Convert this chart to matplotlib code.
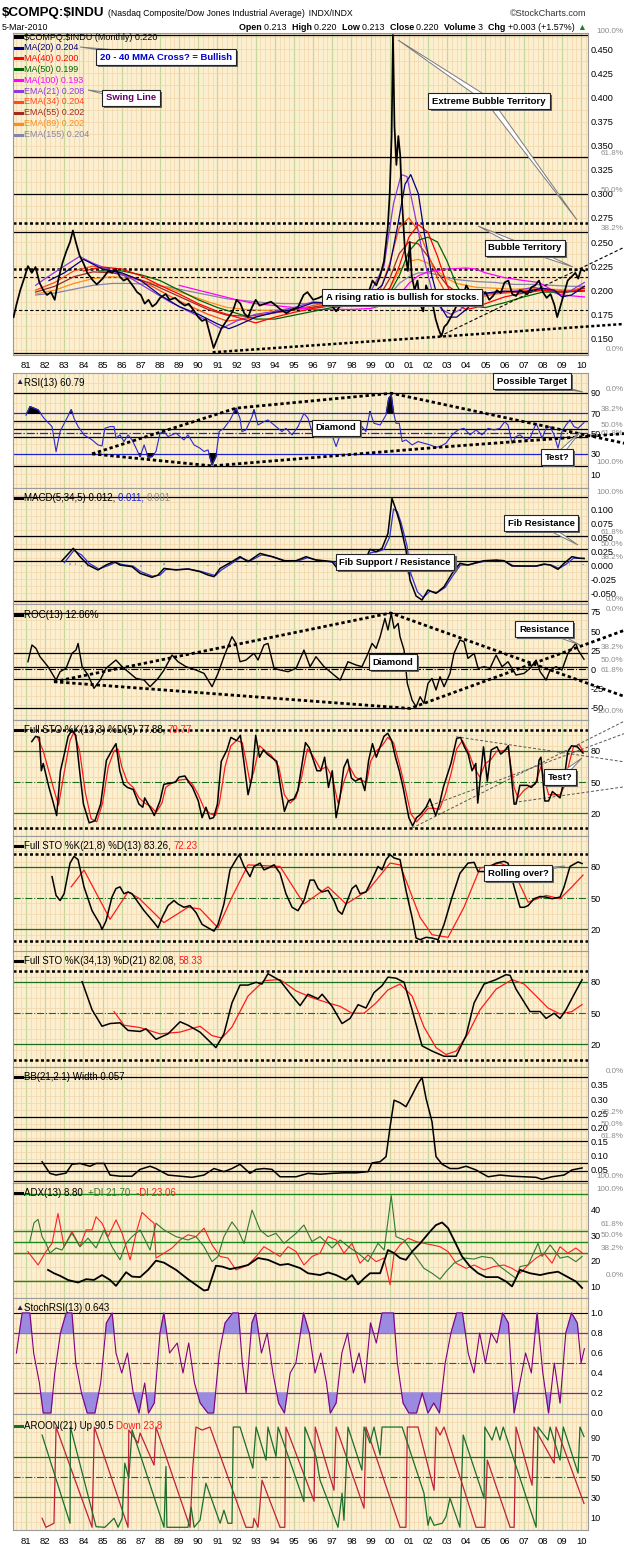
import numpy as np
import matplotlib
matplotlib.use("Agg")
import matplotlib.pyplot as plt
import matplotlib.transforms as mtransforms
import matplotlib.patheffects as pe
from matplotlib.lines import Line2D
from matplotlib.patches import Polygon
from matplotlib import font_manager as fm


def has_font(name):
    try:
        fm.findfont(name, fallback_to_default=False)
        return True
    except Exception:
        return False

SANS = 'Liberation Sans' if has_font('Liberation Sans') else 'DejaVu Sans'
NARROW = 'Liberation Sans Narrow' if has_font('Liberation Sans Narrow') else SANS
plt.rcParams['font.family'] = [SANS, 'DejaVu Sans']

# ---------------- data (year, value) ----------------
years = ['81', '82', '83', '84', '85', '86', '87', '88', '89', '90', '91', '92', '93', '94', '95',
         '96', '97', '98', '99', '00', '01', '02', '03', '04', '05', '06', '07', '08', '09', '10']

price = [(1980.35,0.172),(1980.5,0.185),(1980.7,0.200),(1980.9,0.212),(1981.1,0.225),(1981.3,0.218),
 (1981.5,0.224),(1981.7,0.208),(1981.9,0.200),(1982.1,0.195),(1982.3,0.198),(1982.5,0.190),(1982.7,0.212),
 (1982.9,0.228),(1983.1,0.240),(1983.3,0.250),(1983.45,0.262),(1983.6,0.250),(1983.8,0.236),(1984.0,0.228),
 (1984.2,0.218),(1984.5,0.210),(1984.7,0.206),(1985.0,0.212),(1985.3,0.220),(1985.5,0.218),(1985.7,0.222),
 (1985.9,0.214),(1986.1,0.210),(1986.3,0.212),(1986.6,0.204),(1986.8,0.198),(1987.0,0.195),(1987.2,0.186),
 (1987.4,0.190),(1987.6,0.183),(1987.8,0.186),(1988.0,0.192),(1988.3,0.196),(1988.5,0.190),(1988.8,0.192),
 (1989.0,0.188),(1989.3,0.184),(1989.5,0.186),(1989.8,0.178),(1990.0,0.172),(1990.2,0.168),(1990.4,0.170),
 (1990.6,0.155),(1990.8,0.140),(1991.0,0.150),(1991.2,0.160),(1991.4,0.166),(1991.6,0.172),(1991.8,0.178),
 (1992.0,0.190),(1992.2,0.186),(1992.4,0.176),(1992.6,0.172),(1992.8,0.182),(1993.0,0.190),(1993.2,0.184),
 (1993.5,0.186),(1993.8,0.188),(1994.0,0.185),(1994.3,0.180),(1994.6,0.176),(1994.9,0.180),(1995.2,0.182),
 (1995.5,0.195),(1995.7,0.198),(1996.0,0.190),(1996.3,0.192),(1996.6,0.195),(1996.9,0.186),(1997.2,0.178),
 (1997.5,0.186),(1997.8,0.192),(1998.0,0.188),(1998.3,0.190),(1998.6,0.184),(1998.9,0.198),(1999.1,0.210),
 (1999.3,0.205),(1999.5,0.215),(1999.7,0.230),(1999.9,0.265),(2000.0,0.300),(2000.1,0.360),(2000.17,0.465),
 (2000.25,0.370),(2000.35,0.330),(2000.45,0.360),(2000.55,0.340),(2000.65,0.290),(2000.8,0.240),
 (2000.95,0.220),(2001.05,0.250),(2001.15,0.215),(2001.3,0.200),(2001.45,0.210),(2001.6,0.185),
 (2001.75,0.178),(2001.9,0.205),(2002.0,0.200),(2002.2,0.190),(2002.4,0.170),(2002.55,0.160),(2002.7,0.152),
 (2002.85,0.162),(2003.0,0.165),(2003.2,0.172),(2003.4,0.180),(2003.6,0.188),(2003.8,0.192),(2004.0,0.205),
 (2004.2,0.198),(2004.4,0.194),(2004.6,0.186),(2004.8,0.196),(2005.0,0.198),(2005.2,0.190),(2005.4,0.194),
 (2005.6,0.200),(2005.8,0.197),(2006.0,0.208),(2006.2,0.210),(2006.4,0.196),(2006.6,0.194),(2006.8,0.200),
 (2007.0,0.198),(2007.2,0.196),(2007.4,0.203),(2007.6,0.205),(2007.8,0.210),(2008.0,0.198),(2008.2,0.192),
 (2008.4,0.196),(2008.6,0.185),(2008.75,0.172),(2008.9,0.182),(2009.1,0.196),(2009.3,0.210),(2009.5,0.214),
 (2009.7,0.218),(2009.85,0.212),(2010.0,0.222),(2010.17,0.220)]

ma20 = [(1982.2,.210),(1983,.218),(1984,.232),(1985,.222),(1986,.218),(1987,.210),(1988,.195),(1989,.183),
 (1990,.175),(1991,.165),(1991.6,.160),(1992,.163),(1993,.172),(1994,.177),(1995,.180),(1996,.187),(1997,.187),
 (1998,.188),(1999,.195),(1999.6,.205),(2000,.225),(2000.4,.265),(2000.8,.310),(2001.1,.320),(2001.5,.300),
 (2001.8,.260),(2002.2,.215),(2002.6,.185),(2003,.172),(2003.5,.172),(2004,.180),(2004.5,.190),(2005,.197),
 (2006,.199),(2007,.198),(2008,.202),(2008.6,.200),(2009,.193),(2009.5,.195),(2010.17,.204)]
ma40 = [(1984,.220),(1985,.224),(1986,.222),(1987,.215),(1988,.205),(1989,.196),(1990,.186),(1991,.178),
 (1992,.172),(1993,.166),(1994,.172),(1995,.177),(1996,.181),(1997,.184),(1998,.186),(1999,.190),(2000,.202),
 (2000.5,.225),(2001,.255),(2001.5,.268),(2002,.260),(2002.5,.235),(2003,.205),(2003.5,.185),(2004,.180),
 (2004.5,.182),(2005,.186),(2006,.193),(2007,.197),(2008,.200),(2009,.198),(2010.17,.200)]
ma50 = [(1984.8,.220),(1986,.220),(1987,.216),(1988,.210),(1989,.200),(1990,.190),(1991,.182),(1992,.176),
 (1993,.170),(1994,.170),(1995,.174),(1996,.178),(1997,.182),(1998,.184),(1999,.187),(2000,.197),(2000.5,.215),
 (2001,.240),(2001.5,.252),(2002,.255),(2002.5,.250),(2003,.230),(2003.5,.205),(2004,.188),(2004.5,.183),
 (2005,.182),(2006,.187),(2007,.193),(2008,.198),(2009,.198),(2010.17,.199)]
ma100 = [(1989,.205),(1990,.200),(1991,.195),(1992,.190),(1993,.186),(1994,.184),(1995,.182),(1996,.180),
 (1997,.180),(1998,.180),(1999,.181),(2000,.186),(2000.5,.195),(2001,.207),(2001.5,.215),(2002,.219),(2003,.222),
 (2004,.223),(2004.5,.222),(2005,.218),(2006,.213),(2007,.210),(2007.8,.208),(2008.5,.200),(2009,.195),
 (2010.17,.193)]
ema21 = [(1981.5,.205),(1982,.212),(1983,.225),(1983.8,.235),(1984.5,.228),(1985.5,.220),(1986.5,.212),
 (1987.5,.200),(1988.5,.188),(1989.5,.178),(1990.5,.168),(1991.2,.160),(1992,.168),(1993,.175),(1994,.178),
 (1995,.182),(1996,.188),(1997,.186),(1998,.189),(1999,.198),(1999.7,.225),(2000.2,.290),(2000.6,.320),
 (2000.9,.318),(2001.3,.280),(2001.7,.240),(2002.2,.200),(2002.7,.180),(2003.2,.175),(2003.7,.180),
 (2004.5,.193),(2005.5,.198),(2006.5,.199),(2007.5,.203),(2008.3,.200),(2008.9,.195),(2009.5,.200),(2010.17,.208)]
ema34 = [(1981.5,.200),(1982.5,.208),(1983.5,.220),(1984.5,.225),(1985.5,.220),(1986.5,.214),(1987.5,.205),
 (1988.5,.194),(1989.5,.184),(1990.5,.175),(1991.5,.168),(1992.5,.170),(1993.5,.175),(1994.5,.178),
 (1995.5,.182),(1996.5,.186),(1997.5,.186),(1998.5,.189),(1999.5,.200),(2000,.228),(2000.5,.265),(2001,.275),
 (2001.5,.262),(2002,.238),(2002.5,.212),(2003,.195),(2003.5,.188),(2004.5,.192),(2005.5,.196),(2006.5,.198),
 (2007.5,.201),(2008.5,.199),(2009.5,.199),(2010.17,.204)]
ema55 = [(1981.5,.198),(1982.5,.204),(1983.5,.214),(1984.5,.219),(1985.5,.218),(1986.5,.214),(1987.5,.207),
 (1988.5,.198),(1989.5,.189),(1990.5,.180),(1991.5,.174),(1992.5,.173),(1993.5,.175),(1994.5,.178),
 (1995.5,.181),(1996.5,.184),(1997.5,.185),(1998.5,.187),(1999.5,.195),(2000,.212),(2000.5,.238),(2001,.250),
 (2001.5,.248),(2002,.235),(2002.5,.218),(2003,.205),(2003.5,.198),(2004.5,.196),(2005.5,.197),(2006.5,.198),
 (2007.5,.200),(2008.5,.199),(2009.5,.199),(2010.17,.202)]
ema89 = [(1981.5,.196),(1982.5,.200),(1983.5,.207),(1984.5,.212),(1985.5,.214),(1986.5,.212),(1987.5,.208),
 (1988.5,.202),(1989.5,.195),(1990.5,.188),(1991.5,.182),(1992.5,.180),(1993.5,.179),(1994.5,.180),
 (1995.5,.181),(1996.5,.183),(1997.5,.184),(1998.5,.186),(1999.5,.191),(2000,.202),(2000.5,.220),(2001,.230),
 (2001.5,.232),(2002,.228),(2002.5,.220),(2003,.212),(2003.5,.207),(2004.5,.203),(2005.5,.202),(2006.5,.201),
 (2007.5,.202),(2008.5,.201),(2009.5,.200),(2010.17,.202)]
ema155 = [(1981.5,.195),(1982.5,.197),(1983.5,.201),(1984.5,.205),(1985.5,.207),(1986.5,.207),(1987.5,.206),
 (1988.5,.203),(1989.5,.199),(1990.5,.195),(1991.5,.191),(1992.5,.189),(1993.5,.187),(1994.5,.186),
 (1995.5,.186),(1996.5,.186),(1997.5,.186),(1998.5,.187),(1999.5,.189),(2000,.195),(2000.5,.207),(2001,.214),
 (2001.5,.218),(2002,.218),(2002.5,.216),(2003,.213),(2003.5,.211),(2004.5,.209),(2005.5,.208),(2006.5,.206),
 (2007.5,.206),(2008.5,.205),(2009.5,.204),(2010.17,.204)]

rsi = [(1981.0,68),(1981.21,76.5),(1981.63,73.3),(1981.94,65),(1982.36,56.8),(1982.57,32),(1982.78,52),
 (1983.09,63.4),(1983.36,73.3),(1983.51,65),(1983.72,56.8),(1984.03,48.6),(1984.45,43.7),(1984.76,38.7),
 (1984.97,37.7),(1985.12,55.1),(1985.39,56.8),(1985.6,56.8),(1985.7,45.4),(1985.91,48.6),(1986.12,42),
 (1986.33,48.6),(1986.54,43.7),(1986.75,35.5),(1986.96,27.2),(1987.17,38.7),(1987.38,26.5),(1987.58,27.2),
 (1987.79,32.2),(1988.0,50.3),(1988.21,51.9),(1988.42,47),(1988.84,50.3),(1989.25,43.7),(1989.46,48.6),
 (1989.78,38.7),(1990.09,35.5),(1990.3,32.2),(1990.51,33.8),(1990.72,19),(1990.92,27.2),(1991.09,51.9),
 (1991.34,55.1),(1991.66,63.4),(1991.97,74.9),(1992.18,65),(1992.28,51.9),(1992.49,53.5),(1992.81,66.7),
 (1992.91,73.3),(1993.12,58.4),(1993.43,61.7),(1993.64,63.4),(1994.06,56.8),(1994.37,51.9),(1994.58,55.1),
 (1994.9,48.6),(1995.21,56.8),(1995.52,69.9),(1995.73,65),(1995.94,51.9),(1996.26,48.6),(1996.57,51.9),
 (1996.78,55.1),(1996.99,48.6),(1997.2,37.1),(1997.41,48.6),(1997.82,51.9),(1998.24,48.6),(1998.55,56.8),
 (1998.76,51.9),(1998.97,71.6),(1999.18,60.1),(1999.5,58.4),(1999.81,68.3),(1999.95,84.7),(2000.08,88),
 (2000.19,71.6),(2000.33,60.1),(2000.5,60.1),(2000.65,42),(2000.85,43.7),(2001.17,38.7),(2001.48,42),
 (2001.79,40.4),(2002.11,38.7),(2002.42,36.5),(2002.63,37.1),(2002.94,40.4),(2003.26,48.6),(2003.57,53.5),
 (2003.88,55.1),(2004.2,48.6),(2004.51,53.5),(2004.82,48.6),(2005.14,55.1),(2005.45,53.5),(2005.76,55.1),
 (2006.01,61.7),(2006.18,58.4),(2006.39,40.4),(2006.6,47),(2006.81,48.6),(2007.12,43.7),(2007.33,45.4),
 (2007.65,60.1),(2007.96,45.4),(2008.17,55.1),(2008.38,56.8),(2008.59,48.6),(2008.79,35.5),(2009.0,51.9),
 (2009.21,58.4),(2009.42,63.4),(2009.63,56.8),(2009.84,55.1),(2010.15,60.8)]

macd = [(1982.88,0.0077),(1983.47,0.0298),(1983.82,0.0149),(1984.24,0.0),(1984.76,-0.0089),(1985.18,0.0),
 (1985.6,0.006),(1985.91,0.0),(1986.54,-0.003),(1986.96,-0.0149),(1987.58,-0.022),(1987.9,-0.0179),
 (1988.21,-0.006),(1988.84,-0.0089),(1989.46,-0.0071),(1990.09,-0.0119),(1990.51,-0.0179),(1990.82,-0.0208),
 (1991.14,-0.006),(1991.76,0.006),(1992.18,0.0149),(1992.6,0.006),(1993.23,0.0208),(1993.85,0.0149),
 (1994.48,0.0077),(1995.11,0.0077),(1995.63,0.0149),(1996.15,0.0089),(1996.57,0.0077),(1996.99,0.006),
 (1997.3,-0.0077),(1997.82,-0.003),(1998.24,0.0),(1998.66,0.003),(1998.97,0.028),(1999.29,0.0238),
 (1999.6,0.0298),(1999.91,0.0565),(2000.12,0.119),(2000.33,0.0982),(2000.54,0.0744),(2000.85,0.0268),
 (2001.06,-0.0268),(2001.38,-0.0554),(2001.69,-0.0625),(2002.0,-0.0446),(2002.42,-0.0506),(2002.84,-0.0387),
 (2003.26,-0.0149),(2003.67,0.003),(2004.09,0.0),(2004.51,0.0042),(2004.93,0.0077),(2005.56,0.0089),
 (2005.97,0.0077),(2006.39,-0.0018),(2007.02,-0.0018),(2007.65,-0.0018),(2008.06,0.0018),(2008.38,0.0),
 (2008.79,-0.0077),(2009.11,0.003),(2009.52,0.0149),(2009.94,0.0119),(2010.15,0.012)]
macd_signal = [(1983.0,0.004),(1983.5,0.026),(1983.9,0.018),(1984.3,0.003),(1984.8,-0.007),(1985.3,-0.001),
 (1985.7,0.005),(1986.0,0.001),(1986.6,-0.002),(1987.0,-0.012),(1987.6,-0.020),(1988.0,-0.018),(1988.3,-0.008),
 (1988.9,-0.008),(1989.5,-0.007),(1990.1,-0.011),(1990.6,-0.016),(1990.9,-0.019),(1991.2,-0.009),(1991.8,0.004),
 (1992.2,0.013),(1992.7,0.007),(1993.3,0.018),(1993.9,0.015),(1994.5,0.008),(1995.2,0.007),(1995.7,0.013),
 (1996.2,0.009),(1996.6,0.007),(1997.1,0.005),(1997.4,-0.005),(1997.9,-0.002),(1998.3,0.0),(1998.7,0.003),
 (1999.0,0.022),(1999.4,0.024),(1999.7,0.028),(2000.0,0.050),(2000.2,0.100),(2000.4,0.095),(2000.6,0.075),
 (2000.9,0.035),(2001.1,-0.015),(2001.45,-0.048),(2001.75,-0.058),(2002.1,-0.047),(2002.5,-0.049),
 (2002.9,-0.040),(2003.3,-0.019),(2003.7,0.0),(2004.1,0.0),(2004.6,0.004),(2005.0,0.007),(2005.6,0.008),
 (2006.0,0.007),(2006.45,-0.001),(2007.1,-0.002),(2007.7,-0.002),(2008.1,0.001),(2008.45,0.0),(2008.85,-0.006),
 (2009.2,0.001),(2009.6,0.012),(2010.0,0.012),(2010.17,0.011)]
macd_hist = [(1983.3,0.004),(1983.6,0.003),(1983.9,-0.003),(1984.2,-0.004),(1984.5,-0.003),(1985.0,-0.002),
 (1985.5,0.002),(1986.5,-0.002),(1987.0,-0.003),(1987.5,-0.002),(1988.2,0.004),(1989.0,-0.001),(1990.5,-0.002),
 (1991.1,0.005),(1991.6,0.003),(1992.5,-0.002),(1993.1,0.003),(1994.0,-0.001),(1995.5,0.002),(1997.3,-0.003),
 (1998.9,0.006),(1999.3,-0.002),(1999.8,0.008),(1999.95,0.012),(2000.1,0.018),(2000.3,0.004),(2000.6,-0.005),
 (2000.8,-0.010),(2000.95,-0.016),(2001.1,-0.020),(2001.3,-0.012),(2001.6,-0.004),(2002.0,0.003),(2002.5,-0.002),
 (2003.1,0.004),(2003.4,0.005),(2004.0,0.001),(2006.4,-0.002),(2008.8,-0.002),(2009.4,0.003),(2010.1,0.001)]

roc = [(1981.1,9.6),(1981.31,31.6),(1981.52,27.2),(1981.73,16.2),(1982.15,3.1),(1982.57,-14.5),(1982.78,-3.5),
 (1983.09,0.9),(1983.4,20.6),(1983.61,25),(1983.72,33.7),(1983.93,3.1),(1984.24,-7.9),(1984.55,-25.4),
 (1984.87,-14.5),(1985.18,0.9),(1985.49,7.5),(1985.7,11.8),(1986.02,3.1),(1986.33,-3.5),(1986.75,-12.3),
 (1987.17,-14.5),(1987.48,-23.2),(1987.9,-12.3),(1988.21,-1.3),(1988.63,18.4),(1988.94,9.6),(1989.36,3.1),
 (1989.88,-1.3),(1990.3,-5.7),(1990.72,-23.2),(1991.03,-5.7),(1991.34,16.2),(1991.76,42.5),(1991.97,33.7),
 (1992.18,9.6),(1992.49,11.8),(1992.91,20.6),(1993.12,11.8),(1993.43,31.6),(1993.64,33.7),(1993.96,0.9),
 (1994.27,-1.3),(1994.69,-3.5),(1995.11,0.9),(1995.52,25),(1995.84,3.1),(1996.15,16.2),(1996.57,3.1),
 (1996.99,-5.7),(1997.41,-14.5),(1997.82,9.6),(1998.24,5.3),(1998.55,3.1),(1998.87,20.6),(1999.08,33.7),
 (1999.29,27.2),(1999.5,42.5),(1999.75,66.6),(1999.91,51.3),(2000.08,73),(2000.23,53.5),(2000.44,60),
 (2000.54,42.5),(2000.75,25),(2000.92,-18.9),(2001.17,-40.8),(2001.38,-49.6),(2001.59,-36.4),(2001.79,-45.2),
 (2002.0,-18.9),(2002.21,-12.3),(2002.42,-27.6),(2002.63,-10.1),(2002.84,-23.2),(2003.15,-5.7),(2003.36,20.6),
 (2003.67,38),(2003.88,35.9),(2004.09,14),(2004.41,20.6),(2004.62,0.9),(2004.93,3.1),(2005.24,0.9),
 (2005.56,18.4),(2005.87,3.1),(2006.18,9.6),(2006.6,-7.9),(2007.02,-5.7),(2007.33,0.9),(2007.65,11.8),
 (2007.86,-3.5),(2008.17,-14.5),(2008.38,-1.3),(2008.69,3.1),(2009.0,-1.3),(2009.31,20.6),(2009.73,33.7),
 (2009.84,25),(2010.15,12.9)]

sto13_k = [(1981.3,89),(1981.5,94),(1981.7,93),(1981.8,61),(1981.9,68),(1982.2,45),(1982.4,32),(1982.6,18),
 (1982.8,61),(1983.0,77),(1983.2,94),(1983.4,100),(1983.6,95),(1983.8,61),(1984.0,29),(1984.3,11),(1984.6,13),
 (1984.9,29),(1985.2,71),(1985.5,81),(1985.7,87),(1985.9,61),(1986.1,48),(1986.3,45),(1986.6,43),(1986.9,29),
 (1987.1,26),(1987.2,35),(1987.6,22),(1987.7,18),(1988.0,32),(1988.2,48),(1988.5,49),(1988.8,50),(1989.0,55),
 (1989.3,56),(1989.5,50),(1989.7,45),(1990.0,32),(1990.2,16),(1990.4,26),(1990.6,15),(1990.8,16),(1991.0,29),
 (1991.2,70),(1991.5,81),(1991.7,93),(1992.0,90),(1992.2,95),(1992.4,67),(1992.6,38),(1992.8,54),(1993.0,95),
 (1993.2,74),(1993.4,81),(1993.6,77),(1994.1,70),(1994.3,45),(1994.5,22),(1994.7,32),(1995.0,34),(1995.2,42),
 (1995.6,88),(1995.8,83),(1996.2,61),(1996.4,61),(1996.6,74),(1996.8,45),(1997.0,61),(1997.2,16),(1997.4,35),
 (1997.6,64),(1997.8,72),(1998.0,54),(1998.2,51),(1998.5,54),(1998.7,42),(1998.9,71),(1999.1,87),(1999.3,74),
 (1999.5,84),(1999.7,94),(1999.9,97),(2000.1,90),(2000.3,74),(2000.5,61),(2000.7,45),(2001.0,16),(2001.2,8),
 (2001.4,16),(2001.6,19),(2001.9,26),(2002.1,34),(2002.4,18),(2002.6,29),(2002.8,45),(2003.2,68),(2003.5,92),
 (2003.7,93),(2003.9,84),(2004.1,77),(2004.3,61),(2004.5,68),(2004.6,30),(2004.9,84),(2005.1,51),(2005.3,81),
 (2005.6,84),(2005.8,77),(2006.0,80),(2006.2,85),(2006.5,29),(2006.6,29),(2006.8,47),(2007.0,47),(2007.2,47),
 (2007.4,45),(2007.7,51),(2007.8,71),(2007.9,74),(2008.1,32),(2008.3,32),(2008.5,41),(2008.7,38),(2008.9,35),
 (2009.1,51),(2009.3,79),(2009.5,85),(2009.8,84),(2010.1,78)]
sto13_d = [(1981.6,93),(1981.9,80),(1982.2,60),(1982.5,40),(1982.7,28),(1983.0,60),(1983.3,90),(1983.5,98),
 (1983.8,80),(1984.1,40),(1984.4,15),(1984.7,12),(1985.0,30),(1985.3,65),(1985.6,80),(1985.8,82),(1986.0,65),
 (1986.3,50),(1986.6,45),(1986.9,35),(1987.2,30),(1987.5,27),(1987.8,21),(1988.1,30),(1988.3,45),(1988.6,49),
 (1989.0,52),(1989.4,53),(1989.7,48),(1990.0,38),(1990.3,25),(1990.6,20),(1990.9,18),(1991.1,30),(1991.4,65),
 (1991.7,85),(1992.0,90),(1992.3,88),(1992.5,70),(1992.7,50),(1992.9,60),(1993.2,85),(1993.5,80),(1993.8,76),
 (1994.2,65),(1994.5,38),(1994.8,30),(1995.1,35),(1995.4,55),(1995.7,82),(1996.0,75),(1996.4,62),(1996.7,65),
 (1997.0,55),(1997.3,30),(1997.6,50),(1997.9,65),(1998.2,55),(1998.5,52),(1998.8,50),(1999.0,70),(1999.3,80),
 (1999.6,85),(1999.9,93),(2000.2,88),(2000.5,68),(2000.8,45),(2001.1,20),(2001.4,12),(2001.7,18),(2002.0,25),
 (2002.3,25),(2002.6,24),(2002.9,38),(2003.2,58),(2003.5,82),(2003.8,90),(2004.1,80),(2004.4,65),(2004.7,55),
 (2005.0,68),(2005.3,72),(2005.6,80),(2005.9,80),(2006.2,82),(2006.5,45),(2006.7,35),(2007.0,42),(2007.3,46),
 (2007.6,48),(2007.9,65),(2008.1,52),(2008.3,38),(2008.6,38),(2008.9,38),(2009.1,45),(2009.4,70),(2009.6,84),
 (2009.9,86),(2010.1,80)]

sto21_k = [(1982.36,70.7),(1982.57,52.7),(1982.78,47.8),(1982.99,54.3),(1983.30,83.7),(1983.51,90.2),(1983.72,87),
 (1984.03,60.9),(1984.45,38),(1984.87,24.9),(1984.97,20),(1985.18,28.2),(1985.49,51.1),(1985.70,59.3),
 (1985.91,60.9),(1986.12,54.3),(1986.33,56),(1986.54,54.3),(1986.85,46.2),(1987.17,38),(1987.69,26.6),
 (1987.90,21.6),(1988.11,31.5),(1988.42,42.9),(1988.73,47.8),(1988.94,44.5),(1989.25,41.3),(1989.57,42.9),
 (1989.88,36.3),(1990.20,24.9),(1990.51,21.6),(1990.82,18.4),(1991.03,24.9),(1991.34,44.5),(1991.66,77.2),
 (1991.97,87),(1992.14,91.8),(1992.39,80.5),(1992.70,70.7),(1992.91,80.5),(1993.23,83.7),(1993.43,77.2),
 (1993.64,78.8),(1993.96,82.1),(1994.27,73.9),(1994.58,54.3),(1994.90,41.3),(1995.21,38),(1995.52,47.8),
 (1995.84,67.4),(1996.05,67.4),(1996.26,59.3),(1996.47,56),(1996.78,57.6),(1997.09,47.8),(1997.30,38),
 (1997.51,34.7),(1997.72,44.5),(1998.03,59.3),(1998.24,62.5),(1998.45,54.3),(1998.76,56),(1999.08,68),
 (1999.39,80.5),(1999.60,77.2),(1999.81,87),(2000.02,91.8),(2000.23,88.6),(2000.54,87),(2000.85,57.6),
 (2001.17,31.5),(2001.38,11.8),(2001.59,10.2),(2001.90,12.5),(2002.21,11.8),(2002.53,10.2),(2002.84,24.9),
 (2003.26,51.1),(2003.67,73.9),(2004.09,83.7),(2004.41,84.4),(2004.62,75.6),(2004.93,75.6),(2005.24,80.5),
 (2005.56,83.7),(2005.97,85.4),(2006.18,83.7),(2006.50,60.9),(2006.81,41.3),(2007.02,41.3),(2007.23,42.9),
 (2007.54,49.5),(2007.86,51.7),(2008.17,51.1),(2008.48,49.5),(2008.90,51.1),(2009.11,60.9),(2009.42,80.5),
 (2009.84,84.8),(2010.05,83.3)]
sto21_d = [(1983.36,60.9),(1984.03,77),(1985.39,29.8),(1986.33,56),(1986.9,50),(1988.2,26.6),(1989.46,41.3),
 (1990.09,39.7),(1991.03,21.6),(1991.76,51.1),(1992.6,82),(1994.27,80.5),(1995.52,44.5),(1996.78,60.9),
 (1997.72,44.5),(1998.87,57.6),(2000.02,83.7),(2000.54,82),(2001.59,31.5),(2002.21,15),(2003.05,12.5),
 (2003.88,41.3),(2004.72,78.8),(2005.76,83.7),(2006.4,78.8),(2007.23,46.2),(2008.17,52.7),(2008.9,49.5),
 (2009.52,60.9),(2010.1,72.2)]

sto34_k = [(1983.93,80.3),(1984.45,53.3),(1984.97,37.5),(1985.39,40.1),(1985.91,40.8),(1986.33,33.5),
 (1986.96,32.5),(1987.27,35),(1987.79,25),(1988.42,30.2),(1989.05,41.8),(1989.46,38.5),(1990.09,31.9),
 (1990.92,17),(1991.34,30.2),(1991.76,59.9),(1992.18,77),(1992.6,77),(1993.02,79.7),(1993.33,78),(1993.64,87.9),
 (1994.27,81.3),(1994.9,66.5),(1995.32,57.3),(1995.73,68.2),(1996.26,63.9),(1996.47,68.2),(1996.99,56.6),
 (1997.51,40.1),(1997.93,45),(1998.35,58.2),(1998.76,55),(1999.18,69.8),(1999.6,76.4),(1999.91,84.6),
 (2000.33,83.6),(2000.75,79.7),(2001.17,53.3),(2001.69,18.7),(2002.21,13.7),(2002.84,8.7),(2003.47,8.7),
 (2003.99,28.5),(2004.41,59.9),(2004.93,78),(2005.56,82.3),(2006.08,87),(2006.29,86.3),(2006.6,73.1),
 (2007.33,51.6),(2007.86,51.6),(2008.17,45),(2008.59,50),(2008.9,45),(2009.21,53.3),(2009.73,71.4),(2010.05,82.1)]
sto34_d = [(1985.6,51.6),(1986.12,38.5),(1986.96,36.2),(1988.0,30.2),(1989.05,31.9),(1990.09,37.5),(1990.72,28.5),
 (1991.24,26.2),(1991.76,36.8),(1992.6,66.5),(1993.43,81.3),(1994.27,82.3),(1995.11,71.4),(1995.94,64.9),
 (1996.78,59.9),(1997.41,56.6),(1998.03,50),(1998.66,50),(1999.29,59.9),(1999.91,72.4),(2000.54,78),
 (2001.17,66.5),(2001.79,36.8),(2002.42,17),(2002.94,10.4),(2003.47,13.7),(2004.09,30.2),(2004.72,53.3),
 (2005.56,73.1),(2006.39,82.3),(2007.02,78),(2007.65,66.5),(2008.27,55),(2008.9,49.3),(2009.52,51.6),(2010.05,58.3)]

bbw = [(1981.84,0.079),(1982.25,0.038),(1982.57,0.032),(1983.09,0.039),(1983.4,0.07),(1983.82,0.073),
 (1984.34,0.063),(1984.66,0.073),(1985.08,0.073),(1985.39,0.032),(1985.91,0.028),(1986.54,0.028),(1986.96,0.052),
 (1987.48,0.063),(1987.79,0.055),(1988.42,0.032),(1989.05,0.028),(1989.67,0.024),(1990.3,0.032),(1990.82,0.055),
 (1991.34,0.044),(1991.76,0.055),(1992.18,0.07),(1992.7,0.038),(1993.02,0.052),(1993.43,0.055),(1993.85,0.052),
 (1994.27,0.026),(1995.11,0.026),(1995.73,0.038),(1996.36,0.035),(1996.99,0.038),(1997.61,0.04),(1998.24,0.04),
 (1998.87,0.044),(1999.08,0.075),(1999.5,0.079),(1999.81,0.097),(2000.02,0.202),(2000.23,0.296),(2000.54,0.287),
 (2000.85,0.273),(2001.17,0.314),(2001.48,0.355),(2001.69,0.376),(2001.9,0.302),(2002.21,0.22),(2002.42,0.097),
 (2002.74,0.07),(2003.15,0.055),(2003.57,0.055),(2003.99,0.063),(2004.51,0.05),(2005.14,0.026),(2005.76,0.032),
 (2006.39,0.028),(2007.02,0.026),(2007.65,0.024),(2007.96,0.017),(2008.48,0.026),(2009.11,0.032),(2009.52,0.05),
 (2010.05,0.057)]

adx = [(1982.15,16.5),(1982.46,15.2),(1982.78,14.2),(1983.19,12.6),(1983.72,11.6),(1984.14,12.9),(1984.55,12.6),
 (1984.97,14.5),(1985.39,12.6),(1985.7,10.3),(1986.23,15.6),(1986.54,13.9),(1986.96,13.7),(1987.38,16.5),
 (1987.79,20.1),(1988.21,19.3),(1988.84,16.5),(1989.46,12.9),(1989.88,10.7),(1990.3,8.5),(1990.51,8.8),
 (1990.92,18.1),(1991.24,17.8),(1991.66,16.8),(1992.18,17.6),(1992.6,18.4),(1993.12,21.1),(1993.64,20.4),
 (1994.27,18.4),(1994.69,18.8),(1995.32,17.2),(1995.73,15.2),(1996.36,14.5),(1996.78,15.5),(1997.2,14.5),
 (1997.72,12.6),(1998.03,14.5),(1998.35,10.9),(1998.66,13.2),(1998.97,15.2),(1999.5,15.2),(1999.91,24.2),
 (2000.23,23.0),(2000.54,21.1),(2000.85,20.4),(2001.17,23.6),(2001.59,26.8),(2002.11,31.4),(2002.42,33.9),
 (2002.74,34.9),(2003.05,32.7),(2003.36,28.1),(2003.78,21.7),(2004.2,17.8),(2004.62,15.2),(2005.03,13.7),
 (2005.66,13.7),(2006.08,12),(2006.39,10.1),(2006.81,16.5),(2007.33,15.2),(2007.86,14.5),(2008.27,15.2),
 (2008.79,15.8),(2009.31,13.7),(2009.73,12),(2010.05,9.5)]
plus_di = [(1981.2,27.5),(1981.42,34.8),(1981.63,36.1),(1981.84,29.4),(1982.04,26.8),(1982.25,23),(1982.57,25),
 (1982.88,24.2),(1983.4,30.7),(1983.82,25.5),(1984.24,28.8),(1984.66,25),(1985.08,32),(1985.49,25.5),
 (1985.91,20.4),(1986.23,26.8),(1986.54,29.4),(1986.96,32),(1987.48,24.2),(1987.79,34.6),(1988.21,32),
 (1988.84,29.4),(1989.46,28.1),(1989.88,29.4),(1990.3,25.5),(1990.72,19.7),(1991.03,21.7),(1991.34,29.4),
 (1991.76,35.1),(1992.07,32),(1992.39,26.8),(1992.81,39.7),(1993.23,32),(1993.64,29.4),(1994.06,30.7),
 (1994.48,26.8),(1995.11,30.7),(1995.52,33.9),(1995.94,27.5),(1996.36,29.4),(1996.99,25),(1997.41,28.1),
 (1997.93,25),(1998.35,23),(1998.87,19.7),(1999.39,26.8),(1999.71,24.2),(2000.08,45.3),(2000.33,29.4),
 (2000.75,28.1),(2001.17,23.6),(2001.79,17.1),(2002.21,15.2),(2002.63,12.9),(2002.94,15.8),(2003.36,19.1),
 (2003.88,21.1),(2004.41,20.7),(2004.82,21.7),(2005.35,21.1),(2005.76,17.8),(2006.18,15.5),(2006.6,13.2),
 (2006.81,17.8),(2007.23,18.4),(2007.75,26.8),(2007.96,21.7),(2008.38,26.2),(2008.9,21.1),(2009.31,21.7),
 (2009.73,19.7),(2010.05,21.7)]
minus_di = [(1981.1,23.6),(1981.63,18.4),(1982.04,23.6),(1982.36,26.8),(1982.67,38.4),(1982.99,25.5),(1983.4,31.4),
 (1983.82,25.5),(1984.14,32),(1984.45,32),(1984.66,37.1),(1984.97,34.6),(1985.29,29.4),(1985.7,35.9),
 (1986.02,30.7),(1986.44,20.4),(1986.75,30.7),(1987.06,38.8),(1987.48,35.9),(1987.69,34.6),(1987.79,21.1),
 (1988.21,23),(1988.63,25),(1989.05,28.1),(1989.46,30.1),(1989.88,29.4),(1990.3,32.7),(1990.72,26.2),
 (1991.14,21.7),(1991.55,21.1),(1991.97,16.5),(1992.6,18.4),(1993.02,21.7),(1993.43,25.5),(1993.85,23.6),
 (1994.27,21.7),(1994.69,25.5),(1995.11,23.6),(1995.52,18.4),(1995.94,21.7),(1996.36,23),(1996.78,29.4),
 (1997.2,28.1),(1997.61,23),(1998.03,26.8),(1998.45,19.1),(1998.87,22.3),(1999.29,19.7),(1999.7,21.1),
 (2000.02,10.7),(2000.23,23),(2000.54,26.2),(2000.96,28.8),(2001.38,27.5),(2001.79,26.8),(2002.21,26.2),
 (2002.63,25.5),(2003.05,23.6),(2003.47,19.1),(2003.99,17.1),(2004.41,18.4),(2004.93,16.5),(2005.45,17.8),
 (2005.97,18.4),(2006.39,17.1),(2006.81,15.2),(2007.23,18.4),(2007.65,21.1),(2008.06,23),(2008.48,19.1),
 (2008.9,25.5),(2009.31,23),(2009.73,25),(2010.05,23.1)]

stochrsi = [(1980.5,0.6),(1980.8,1),(1981.2,1),(1981.4,0.6),(1981.7,0.3),(1981.9,0.0),(1982.3,0.0),(1982.5,0.4),
 (1982.8,0.8),(1983.1,1),(1983.4,1),(1983.6,0.5),(1983.9,0.2),(1984.2,0.0),(1984.6,0.0),(1984.9,0.3),(1985.2,0.9),
 (1985.5,1),(1985.7,0.6),(1986.0,0.4),(1986.3,0.6),(1986.6,0.2),(1986.9,0.0),(1987.2,0.3),(1987.4,0.0),(1987.7,0.1),
 (1988.0,0.8),(1988.2,1),(1988.5,0.6),(1988.9,0.7),(1989.2,0.4),(1989.5,0.7),(1989.8,0.3),(1990.1,0.1),(1990.5,0.0),
 (1990.8,0.0),(1991.1,0.6),(1991.4,0.9),(1991.8,1),(1992.1,1),(1992.3,0.5),(1992.5,0.2),(1992.8,0.9),(1993.0,1),
 (1993.3,0.6),(1993.6,0.8),(1993.9,0.4),(1994.2,0.1),(1994.5,0.0),(1994.8,0.4),(1995.1,0.5),(1995.5,1),(1995.8,0.8),
 (1996.1,0.4),(1996.4,0.6),(1996.7,0.3),(1996.9,0.0),(1997.2,0.1),(1997.5,0.6),(1997.8,0.8),(1998.1,0.4),(1998.4,0.6),
 (1998.7,0.3),(1999.0,0.9),(1999.3,0.7),(1999.6,1),(1999.9,1),(2000.2,1),(2000.4,0.5),(2000.7,0.1),(2001.0,0.0),
 (2001.4,0.0),(2001.7,0.2),(2002.0,0.0),(2002.3,0.1),(2002.6,0.0),(2002.9,0.5),(2003.2,0.8),(2003.5,1),(2003.8,1),
 (2004.1,0.6),(2004.4,0.4),(2004.7,0.8),(2005.0,0.5),(2005.3,0.8),(2005.6,0.7),(2005.9,1),(2006.2,0.9),(2006.5,0.0),
 (2006.8,0.3),(2007.1,0.6),(2007.4,0.4),(2007.7,1),(2008.0,0.4),(2008.3,0.0),(2008.6,0.5),(2008.9,0.1),(2009.2,0.8),
 (2009.5,1),(2009.8,0.9),(2010.0,0.5),(2010.17,0.643)]

aroon_up = [(1981.84,92),(1983.30,4),(1983.32,100),(1984.66,0.6),(1985.12,0),(1985.6,9),(1985.81,0),(1986.02,9),
 (1986.16,64),(1986.37,49),(1986.54,97.3),(1988.21,0),(1988.31,60.6),(1988.36,0),(1989.46,0),(1989.63,20),
 (1989.78,0),(1990.09,7),(1990.40,44),(1991.14,4),(1991.34,17),(1991.55,4),(1991.76,4),(1991.83,100),
 (1992.18,100),(1992.85,59),(1993.02,100),(1993.54,67),(1993.64,100),(1994.06,70.6),(1994.17,100),(1995.52,25.6),
 (1995.57,100),(1996.15,70.6),(1996.36,47),(1997.30,0),(1997.51,34),(1997.61,7),(1997.82,100),(1998.55,57),
 (1998.66,100),(1998.97,84),(1999.18,100),(1999.50,72),(1999.60,100),(2000.02,100),(2000.65,100),(2001.79,34),
 (2002.0,2),(2002.11,10.6),(2002.32,2),(2002.74,4),(2002.94,10.6),(2003.15,29),(2003.67,0),(2003.84,92),
 (2004.93,29),(2004.97,100),(2005.35,87),(2005.56,100),(2005.76,87),(2005.93,100),(2007.65,0),(2007.75,100),
 (2008.27,87),(2008.38,100),(2008.9,67),(2009.07,100),(2009.84,54),(2009.94,100),(2010.15,90.5)]
aroon_down = [(1981.84,9),(1982.04,0),(1982.25,2),(1982.46,4),(1982.57,100),(1984.45,0),(1984.57,100),(1986.33,0),
 (1986.37,97),(1986.85,84),(1986.96,94),(1987.69,62),(1987.79,100),(1989.57,0),(1989.71,59),(1989.88,100),
 (1990.20,97),(1990.61,100),(1992.49,0),(1992.85,0),(1992.91,9),(1993.12,0),(1993.33,47),(1994.27,0),(1994.52,0),
 (1994.58,100),(1996.05,26),(1996.11,100),(1997.09,37),(1997.2,100),(1998.66,19),(1998.76,100),(2000.54,0),
 (2000.85,0),(2000.92,100),(2001.48,100),(2002.32,37),(2002.42,100),(2002.63,92),(2002.84,100),(2004.51,0),
 (2004.97,0),(2005.1,67),(2006.29,0),(2006.5,0),(2006.6,100),(2007.44,42),(2007.54,100),(2008.59,64),
 (2008.69,100),(2010.15,23.8)]

# ---------------- layout ----------------
W, H = 624, 1552
L_PX, R_PX = 13, 588
X0, X1 = 1980.32, 2010.36
BG = '#fcefd0'
MINOR = '#f1d5a8'
YEARC = '#c6d79c'
GRAY = '#8c8c8c'

fig = plt.figure(figsize=(W / 100, H / 100), dpi=100)
fig.patch.set_facecolor('white')
R = fig.canvas.get_renderer()


def fx(x):
    return x / W


def fy(y):
    return 1 - y / H


def xy(series):
    a = np.array(series, dtype=float)
    return a[:, 0], a[:, 1]


def panel(top, bottom, ylo, yhi, ticks, fmt, hgrid):
    ax = fig.add_axes([fx(L_PX), fy(bottom), (R_PX - L_PX) / W, (bottom - top) / H])
    ax.set_xlim(X0, X1)
    ax.set_ylim(ylo, yhi)
    ax.set_facecolor(BG)
    for q in np.arange(1980.5, 2010.4, 0.25):
        ax.axvline(q, color=MINOR, lw=0.5, zorder=0)
    for yr in range(1981, 2011):
        ax.axvline(yr, color=YEARC, lw=0.9, zorder=0)
    for hv in hgrid:
        ax.axhline(hv, color=MINOR, lw=0.5, zorder=0)
    ax.set_xticks([])
    ax.yaxis.tick_right()
    ax.set_yticks(ticks)
    ax.set_yticklabels([fmt(t) for t in ticks])
    ax.tick_params(axis='y', length=0, pad=2, labelsize=6.6)
    for s in ax.spines.values():
        s.set_color('#9a9a9a')
        s.set_linewidth(0.8)
    return ax


def hline(ax, v, color='black', lw=0.9, ls='-'):
    ax.axhline(v, color=color, lw=lw, ls=ls, zorder=2)


def fib_right(ax, v, s):
    # right-aligned at the figure edge like the reference
    tr = mtransforms.blended_transform_factory(fig.transFigure, ax.transData)
    ax.text(fx(623.5), v, s, transform=tr, color=GRAY, fontsize=5.8, ha='right', va='bottom',
            clip_on=False)


def seg(ax, pts, lw=2.0, ls=(0, (1.2, 1.0)), color='black'):
    xs, ys = xy(pts)
    ax.plot(xs, ys, color=color, lw=lw, ls=ls, clip_on=False, zorder=4)


def chain(x, y, parts, size=7.0, family=None, right=False):
    texts = []
    total = 0
    for s, color, weight in parts:
        t = fig.text(0, 0, s, fontsize=size, color=color, fontweight=weight,
                     ha='left', va='center', family=family or SANS, zorder=30)
        w = t.get_window_extent(renderer=R).width
        texts.append((t, w))
        total += w
    if right:
        x -= total
    for t, w in texts:
        t.set_position((fx(x), fy(y)))
        x += w
    return x


def label(y, parts, marker='black', tri=False, size=7.0):
    if tri:
        fig.text(fx(15), fy(y), '\u25b2', fontsize=6, color='#202060', ha='left', va='center', zorder=30)
    else:
        fig.add_artist(Line2D([fx(15), fx(22)], [fy(y), fy(y)], color=marker, lw=2.2, zorder=30))
    chain(23.5, y, parts, size=size)


def callout(text, cx, cy, tips=(), color='black', size=6.8):
    for tx, ty in tips:
        ang = np.arctan2(ty - cy, tx - cx)
        nx, ny = -np.sin(ang) * 3, np.cos(ang) * 3
        poly = Polygon([(fx(cx + nx), fy(cy + ny)), (fx(cx - nx), fy(cy - ny)), (fx(tx), fy(ty))],
                       closed=True, transform=fig.transFigure, fc='white', ec='#7a7a7a', lw=0.7, zorder=39)
        fig.add_artist(poly)
    t = fig.text(fx(cx), fy(cy), text, ha='center', va='center', fontsize=size, fontweight='bold',
                 color=color, family=NARROW, zorder=40,
                 bbox=dict(boxstyle='square,pad=0.4', fc='white', ec='#222222', lw=0.8))
    t.get_bbox_patch().set_path_effects([pe.withSimplePatchShadow(offset=(1.5, -1.5),
                                                                  shadow_rgbFace='#666666', alpha=1.0)])


# ---------------- header ----------------
x_after = chain(2, 13, [(r'\$COMPQ:\$INDU', 'black', 'bold')], size=9.6, family=NARROW)
chain(x_after + 3, 14, [('(Nasdaq Composite/Dow Jones Industrial Average)', 'black', 'normal'),
                        ('  INDX/INDX', 'black', 'normal')], size=6.2, family=NARROW)
fig.text(fx(587), fy(13), '\u00a9StockCharts.com', fontsize=6.6, ha='right', va='center', color='#333333')
fig.text(fx(2), fy(28), '5-Mar-2010', fontsize=6.4, ha='left', va='center', family=NARROW)
chain(586, 28, [('Open ', 'black', 'bold'), ('0.213  ', 'black', 'normal'), ('High ', 'black', 'bold'),
                ('0.220  ', 'black', 'normal'), ('Low ', 'black', 'bold'), ('0.213  ', 'black', 'normal'),
                ('Close ', 'black', 'bold'), ('0.220  ', 'black', 'normal'), ('Volume ', 'black', 'bold'),
                ('3  ', 'black', 'normal'), ('Chg ', 'black', 'bold'), ('+0.003 (+1.57%) ', 'black', 'normal'),
                ('\u25b2', '#208020', 'normal')], size=6.4, family=NARROW, right=True)

# ---------------- main price panel ----------------
ax = panel(33, 355, 0.1327, 0.467, np.arange(0.150, 0.451, 0.025), lambda t: f'{t:.3f}',
           np.arange(0.1375, 0.466, 0.0125))
for v in (0.4649, 0.3385, 0.2994, 0.2606, 0.1344):
    hline(ax, v)
for v in (0.2693, 0.2222):
    hline(ax, v, lw=1.8, ls=(0, (1.2, 1.0)))
for v in (0.2135, 0.1793):
    hline(ax, v, lw=0.8, ls=(0, (3, 2)))
fib_right(ax, 0.4649, '100.0%')
fib_right(ax, 0.3385, '61.8%')
fib_right(ax, 0.2994, '50.0%')
fib_right(ax, 0.2606, '38.2%')
fib_right(ax, 0.1344, '0.0%')
seg(ax, [(1990.75, 0.1355), (2012.3, 0.1650)], lw=1.8)
seg(ax, [(2002.6, 0.1520), (2012.3, 0.2450)], lw=0.8, ls=(0, (3, 2)))

ma_styles = [(ema155, '#8484a8'), (ema89, '#ff8c1a'), (ema55, '#a0281e'), (ema34, '#ff4a1a'),
             (ema21, '#8a3be0'), (ma100, '#ff00ff'), (ma50, '#006400'), (ma40, '#ff0000'), (ma20, '#000080')]
for s, c in ma_styles:
    xs, ys = xy(s)
    ax.plot(xs, ys, color=c, lw=0.9, zorder=3)
xs, ys = xy(price)
ax.plot(xs, ys, color='black', lw=1.25, zorder=5)

label(37, [(r'\$COMPQ:\$INDU (Monthly) 0.220', 'black', 'normal')], size=6.5)
legend_items = [('MA(20) 0.204', '#000080'), ('MA(40) 0.200', '#ff0000'), ('MA(50) 0.199', '#006400'),
                ('MA(100) 0.193', '#ff00ff'), ('EMA(21) 0.208', '#8a3be0'), ('EMA(34) 0.204', '#ff4a1a'),
                ('EMA(55) 0.202', '#a0281e'), ('EMA(89) 0.202', '#ff8c1a'), ('EMA(155) 0.204', '#8484a8')]
for i, (s, c) in enumerate(legend_items):
    label(47.5 + i * 10.9, [(s, c, 'normal')], marker=c, size=6.4)

# ---------------- year labels ----------------
for i, s in enumerate(years):
    xp = L_PX + (1981 + i - X0) / (X1 - X0) * (R_PX - L_PX)
    fig.text(fx(xp), fy(365), s, fontsize=6.8, ha='center', va='center')
    fig.text(fx(xp), fy(1542), s, fontsize=6.8, ha='center', va='center')

# ---------------- RSI ----------------
ax = panel(373, 488, -3.8, 109.7, [10, 30, 50, 70, 90], lambda t: f'{t:d}', np.arange(0, 110, 10))
hline(ax, 90)
hline(ax, 70, color='#2020d0')
hline(ax, 30, color='#2020d0')
hline(ax, 50, color='#2020d0', ls='-.')
for v in (62.8, 54.4, 46.1, 17.6):
    hline(ax, v)
fib_right(ax, 90, '0.0%')
fib_right(ax, 70, '38.2%')
fib_right(ax, 54.4, '50.0%')
fib_right(ax, 46.1, '61.8%')
fib_right(ax, 17.6, '100.0%')
xs, ys = xy(rsi)
ax.fill_between(xs, ys, 70, where=ys > 70, interpolate=True, color='black', zorder=3)
ax.fill_between(xs, ys, 30, where=ys < 30, interpolate=True, color='black', zorder=3)
ax.plot(xs, ys, color='#2a2ad0', lw=0.8, zorder=4)
seg(ax, [(1984.45, 29.9), (1991.97, 75), (2000.1, 89.7), (2012.35, 40)])
seg(ax, [(1984.45, 29.9), (1990.72, 18), (2002.63, 36.5), (2012.35, 50)])
label(383, [('RSI(13) 60.79', 'black', 'normal')], tri=True)

# ---------------- MACD ----------------
ax = panel(488, 604, -0.0696, 0.1375, [-0.05, -0.025, 0, 0.025, 0.05, 0.075, 0.1],
           lambda t: f'{t:.3f}', np.arange(-0.0625, 0.13, 0.0125))
for v in (0.121, 0.0517, 0.028, 0.0065, -0.065):
    hline(ax, v)
fib_right(ax, 0.124, '100.0%')
fib_right(ax, 0.0517, '61.8%')
fib_right(ax, 0.030, '50.0%')
fib_right(ax, 0.0065, '38.2%')
fib_right(ax, -0.068, '0.0%')
xs, ys = xy(macd_hist)
ax.bar(xs, ys, width=0.07, color='#a8a8c0', zorder=3)
xs, ys = xy(macd_signal)
ax.plot(xs, ys, color='#3030d0', lw=0.9, zorder=4)
xs, ys = xy(macd)
ax.plot(xs, ys, color='black', lw=1.1, zorder=5)
label(498, [('MACD(5,34,5) 0.012, ', 'black', 'normal'), ('0.011, ', '#2020d0', 'normal'),
            ('0.001', GRAY, 'normal')])

# ---------------- ROC ----------------
ax = panel(604, 720, -67, 85.5, [-50, -25, 0, 25, 50, 75], lambda t: f'{t:d}', np.arange(-60, 85, 12.5))
for v in (73.7, 20.6, 3.1, -13, -51.8):
    hline(ax, v)
hline(ax, 0, ls='-.', lw=0.8)
fib_right(ax, 73.7, '0.0%')
fib_right(ax, 24, '38.2%')
fib_right(ax, 7, '50.0%')
fib_right(ax, -6, '61.8%')
fib_right(ax, -60, '100.0%')
seg(ax, [(1982.46, -16.7), (2000.05, 73.7), (2012.3, -36.4)])
seg(ax, [(1982.46, -16.7), (2001.06, -51.8), (2012.3, 51.3)])
xs, ys = xy(roc)
ax.plot(xs, ys, color='black', lw=1.0, zorder=5)
label(615, [('ROC(13) 12.86%', 'black', 'normal')])


# ---------------- Full STO panels ----------------
def sto_panel(top, k, d, dots, lab):
    a = panel(top, top + 116, -1.6, 109.7, [20, 50, 80], lambda t: f'{t:d}', np.arange(5, 110, 10))
    hline(a, 80, color='#1a6e1a')
    hline(a, 20, color='#1a6e1a')
    hline(a, 50, color='#1a6e1a', ls='-.', lw=0.8)
    for v in dots:
        hline(a, v, lw=1.8, ls=(0, (1.2, 1.0)))
    xs, ys = xy(d)
    a.plot(xs, ys, color='#ff1a1a', lw=0.9, zorder=4)
    xs, ys = xy(k)
    a.plot(xs, ys, color='black', lw=1.1, zorder=5)
    label(top + 10, lab)
    return a


ax = sto_panel(720, sto13_k, sto13_d, (100, 6),
               [('Full STO %K(13,3) %D(5) 77.88, ', 'black', 'normal'), ('79.77', '#ff1a1a', 'normal')])
seg(ax, [(2001.17, 6), (2012.3, 109)], lw=0.7, ls=(0, (3, 2)), color='#555555')
seg(ax, [(2001.9, 26), (2012.3, 97)], lw=0.7, ls=(0, (3, 2)), color='#555555')
seg(ax, [(2003.47, 93.6), (2012.3, 69.4)], lw=0.7, ls=(0, (3, 2)), color='#555555')
seg(ax, [(2006.5, 30.6), (2012.3, 45.7)], lw=0.7, ls=(0, (3, 2)), color='#555555')

sto_panel(836, sto21_k, sto21_d, (92.8, 9.2),
          [('Full STO %K(21,8) %D(13) 83.26, ', 'black', 'normal'), ('72.23', '#ff1a1a', 'normal')])
sto_panel(951, sto34_k, sto34_d, (90.2, 5),
          [('Full STO %K(34,13) %D(21) 82.08, ', 'black', 'normal'), ('58.33', '#ff1a1a', 'normal')])

# ---------------- BB width ----------------
ax = panel(1067, 1183, 0.004, 0.413, [0.05, 0.1, 0.15, 0.2, 0.25, 0.3, 0.35], lambda t: f'{t:.2f}',
           np.arange(0.0125, 0.41, 0.025))
for v in (0.376, 0.236, 0.193, 0.151, 0.074, 0.046, 0.010):
    hline(ax, v)
fib_right(ax, 0.385, '0.0%')
fib_right(ax, 0.240, '38.2%')
fib_right(ax, 0.197, '50.0%')
fib_right(ax, 0.155, '61.8%')
fib_right(ax, 0.013, '100.0%')
xs, ys = xy(bbw)
ax.plot(xs, ys, color='black', lw=1.1, zorder=5)
label(1077, [('BB(21,2.1) Width 0.057', 'black', 'normal')])

# ---------------- ADX ----------------
ax = panel(1183, 1298, 5.6, 50.2, [10, 20, 30, 40], lambda t: f'{t:d}', np.arange(7.5, 50, 5))
for v in (45.9, 31.7, 27.2, 22.9, 12.3):
    hline(ax, v, color='#1a8a1a', lw=1.0)
fib_right(ax, 46.5, '100.0%')
fib_right(ax, 32.8, '61.8%')
fib_right(ax, 28.6, '50.0%')
fib_right(ax, 23.3, '38.2%')
fib_right(ax, 12.8, '0.0%')
xs, ys = xy(minus_di)
ax.plot(xs, ys, color='#ff2020', lw=0.8, zorder=4)
xs, ys = xy(plus_di)
ax.plot(xs, ys, color='#2e7a2e', lw=0.8, zorder=4)
xs, ys = xy(adx)
ax.plot(xs, ys, color='black', lw=1.3, zorder=5)
label(1193, [('ADX(13) 8.80  ', 'black', 'normal'), ('+DI 21.70  ', '#2e7a2e', 'normal'),
             ('-DI 23.06', '#ff2020', 'normal')])

# ---------------- StochRSI ----------------
ax = panel(1298, 1414, -0.01, 1.15, [0.0, 0.2, 0.4, 0.6, 0.8, 1.0], lambda t: f'{t:.1f}',
           np.arange(0.05, 1.15, 0.1))
hline(ax, 0.8, color='#8020a0')
hline(ax, 0.2, color='#8020a0')
hline(ax, 0.5, color='#8020a0', ls='-.', lw=0.8)
hline(ax, 1.0, color='black', lw=0.8)
xs, ys = xy(stochrsi)
ax.fill_between(xs, ys, 0.8, where=ys > 0.8, interpolate=True, color='#9a8ae0', zorder=3)
ax.fill_between(xs, ys, 0.2, where=ys < 0.2, interpolate=True, color='#9a8ae0', zorder=3)
ax.plot(xs, ys, color='#800080', lw=0.8, zorder=4)
label(1308, [('StochRSI(13) 0.643', 'black', 'normal')], tri=True)

# ---------------- AROON ----------------
ax = panel(1414, 1530, -2.7, 113, [10, 30, 50, 70, 90], lambda t: f'{t:d}', np.arange(5, 110, 10))
hline(ax, 70, color='#1a6e1a')
hline(ax, 30, color='#1a6e1a')
hline(ax, 50, color='#1a6e1a', ls='-.', lw=0.8)
xs, ys = xy(aroon_down)
ax.plot(xs, ys, color='#c0203a', lw=0.9, zorder=4)
xs, ys = xy(aroon_up)
ax.plot(xs, ys, color='#1a6e2a', lw=0.9, zorder=5)
label(1426, [('AROON(21) Up 90.5 ', 'black', 'normal'), ('Down 23.8', '#ff1a1a', 'normal')],
      marker='#1a6e2a')

# ---------------- callouts ----------------
callout('20 - 40 MMA Cross? = Bullish', 166, 57, [(80, 47)], color='#0000cc')
callout('Swing Line', 131, 98, [(88, 90)], color='#660066')
callout('Extreme Bubble Territory', 489, 101, [(398, 40), (577, 220)])
callout('Bubble Territory', 525, 248, [(478, 226), (573, 267)])
callout('A rising ratio is bullish for stocks.', 402, 297)
callout('Possible Target', 532, 381, [(583, 392)])
callout('Diamond', 336, 428)
callout('Test?', 557, 457, [(580, 432)])
callout('Fib Resistance', 541, 523, [(578, 545)])
callout('Fib Support / Resistance', 395, 562)
callout('Diamond', 393, 662)
callout('Resistance', 544, 629, [(580, 645)])
callout('Test?', 560, 777, [(582, 758)])
callout('Rolling over?', 518, 873, [(565, 866)])

fig.savefig('out.png', dpi=100)
